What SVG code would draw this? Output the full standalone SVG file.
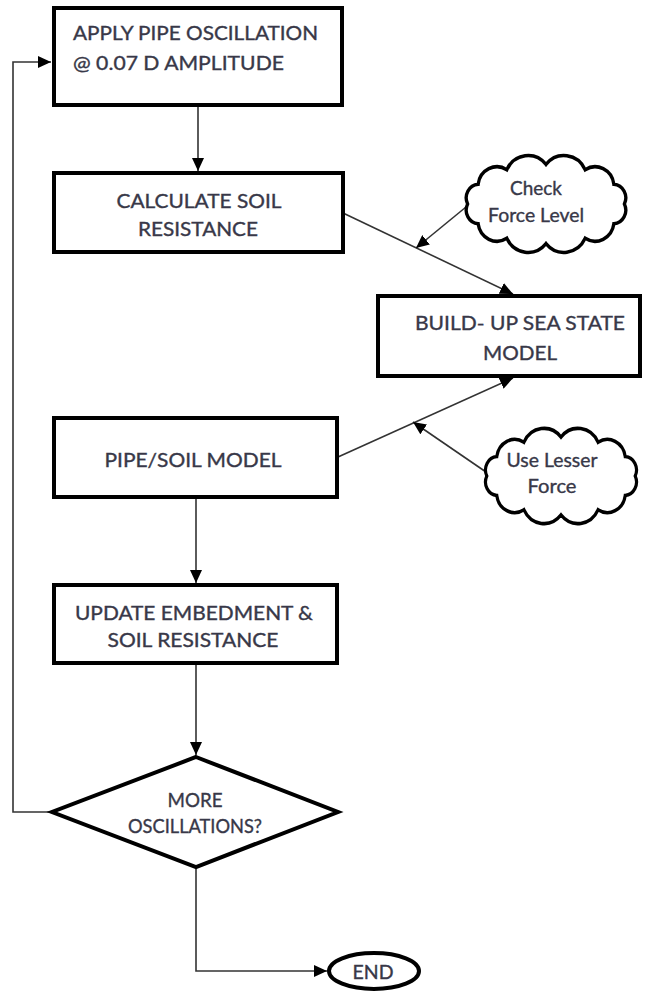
<svg xmlns="http://www.w3.org/2000/svg" width="654" height="992" viewBox="0 0 654 992">
  <style>
    .box { fill: #fff; stroke: #000; stroke-width: 4; }
    .cloud { fill: #fff; stroke: #000; stroke-width: 3; vector-effect: non-scaling-stroke; }
    .conn { fill: none; stroke: #333; stroke-width: 1.6; }
    .t { font-family: Lato, "Open Sans", sans-serif; font-size: 19px; fill: #383848; stroke: #383848; stroke-width: 0.35; }
    .c { text-anchor: middle; }
  </style>
  <defs>
    <marker id="arr" markerUnits="userSpaceOnUse" markerWidth="14" markerHeight="12" refX="13" refY="6" orient="auto">
      <path d="M0,0 L13,6 L0,12 Z" fill="#000"/>
    </marker>
    <path id="cloudShape" d="M70,0 A11.4,11.4 0 0 1 60.6,16.5 A17,17 0 0 1 35,28.6 A21.2,21.2 0 0 1 0,33 A21.2,21.2 0 0 1 -35,28.6 A17,17 0 0 1 -60.6,16.5 A11.4,11.4 0 0 1 -70,0 A11.4,11.4 0 0 1 -60.6,-16.5 A17,17 0 0 1 -35,-28.6 A21.2,21.2 0 0 1 0,-33 A21.2,21.2 0 0 1 35,-28.6 A17,17 0 0 1 60.6,-16.5 A11.4,11.4 0 0 1 70,0 Z"/>
  </defs>

  <g id="connectors">
    <path class="conn" d="M198,105 L198,171" marker-end="url(#arr)"/>
    <path class="conn" d="M343,213 L513,294" marker-end="url(#arr)"/>
    <path class="conn" d="M466,207 L416,248" marker-end="url(#arr)"/>
    <path class="conn" d="M338,457 L513,378" marker-end="url(#arr)"/>
    <path class="conn" d="M486,472 L413,422" marker-end="url(#arr)"/>
    <path class="conn" d="M196,497 L196,583" marker-end="url(#arr)"/>
    <path class="conn" d="M196,663 L196,755" marker-end="url(#arr)"/>
    <path class="conn" d="M52,812 L13,812 L13,62 L51,62" marker-end="url(#arr)"/>
    <path class="conn" d="M196,867 L196,971 L327,971" marker-end="url(#arr)"/>
  </g>

  <g id="n1">
    <rect class="box" x="54" y="8" width="288" height="97"/>
    <text class="t" x="73" y="40" textLength="245" lengthAdjust="spacingAndGlyphs">APPLY PIPE OSCILLATION</text>
    <text class="t" x="73" y="70" textLength="211" lengthAdjust="spacingAndGlyphs">@ 0.07 D AMPLITUDE</text>
  </g>

  <g id="n2">
    <rect class="box" x="54" y="173" width="289" height="79"/>
    <text class="t c" x="199" y="208" textLength="165" lengthAdjust="spacingAndGlyphs">CALCULATE SOIL</text>
    <text class="t c" x="198" y="236" textLength="120" lengthAdjust="spacingAndGlyphs">RESISTANCE</text>
  </g>

  <g id="n3">
    <rect class="box" x="378" y="296" width="262" height="80"/>
    <text class="t c" x="520" y="330" textLength="210" lengthAdjust="spacingAndGlyphs">BUILD- UP SEA STATE</text>
    <text class="t c" x="520" y="360" textLength="74" lengthAdjust="spacingAndGlyphs">MODEL</text>
  </g>

  <g id="cloud1">
    <use href="#cloudShape" class="cloud" transform="translate(546,204) scale(1.12,1.2)"/>
    <text class="t c" x="536" y="195" textLength="52" lengthAdjust="spacingAndGlyphs">Check</text>
    <text class="t c" x="536" y="222" textLength="96" lengthAdjust="spacingAndGlyphs">Force Level</text>
  </g>

  <g id="n4">
    <rect class="box" x="54" y="418" width="283" height="79"/>
    <text class="t c" x="193" y="467" textLength="177" lengthAdjust="spacingAndGlyphs">PIPE/SOIL MODEL</text>
  </g>

  <g id="cloud2">
    <use href="#cloudShape" class="cloud" transform="translate(561,476) scale(1.06,1.18)"/>
    <text class="t c" x="552" y="467" textLength="91" lengthAdjust="spacingAndGlyphs">Use Lesser</text>
    <text class="t c" x="552" y="493" textLength="49" lengthAdjust="spacingAndGlyphs">Force</text>
  </g>

  <g id="n5">
    <rect class="box" x="54" y="585" width="283" height="78"/>
    <text class="t c" x="194" y="620" textLength="238" lengthAdjust="spacingAndGlyphs">UPDATE EMBEDMENT &amp;</text>
    <text class="t c" x="193" y="647" textLength="171" lengthAdjust="spacingAndGlyphs">SOIL RESISTANCE</text>
  </g>

  <g id="n6">
    <path class="box" d="M196,757 L338,812 L196,867 L52,812 Z"/>
    <text class="t c" x="195" y="807" textLength="55" lengthAdjust="spacingAndGlyphs">MORE</text>
    <text class="t c" x="195" y="833" textLength="134" lengthAdjust="spacingAndGlyphs">OSCILLATIONS?</text>
  </g>

  <g id="n7">
    <ellipse class="box" cx="374" cy="971" rx="45" ry="18" stroke-width="3.5"/>
    <text class="t c" x="373" y="979" textLength="41" lengthAdjust="spacingAndGlyphs">END</text>
  </g>
</svg>
